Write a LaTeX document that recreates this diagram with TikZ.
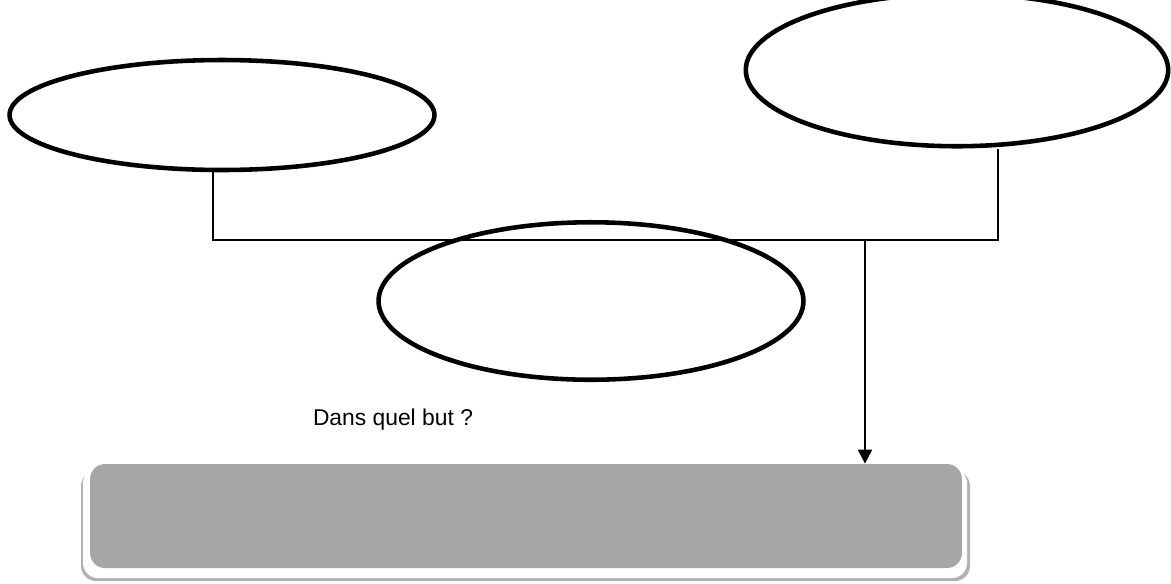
\documentclass[tikz,border=0pt]{standalone}
\usepackage{fontspec}
\setmainfont{Liberation Sans}
\usetikzlibrary{shapes.geometric,arrows.meta}

\tikzset{
  bulle/.style={ellipse, draw, line width=2.6pt},
  lien/.style={draw, line width=1.1pt},
}

\begin{document}
\begin{tikzpicture}[x=0.02cm, y=-0.02cm]
      \useasboundingbox (0,0) rectangle (1171,583);
      % bulles
      \node (gauche) [bulle, minimum width=8.5cm, minimum height=2.2cm] at (222,115) {};
      \node (droite) [bulle, minimum width=8.45cm, minimum height=3.05cm] at (957,70) {};
      \node (milieu) [bulle, minimum width=8.5cm, minimum height=3.15cm] at (591,301) {};
      % cadre du bas
      \fill[gray!60, rounded corners=0.3cm] (81,471) rectangle (970,581);
      \fill[white, rounded corners=0.3cm] (83,468) rectangle (967,578);
      \node (but) [fill={rgb,255:red,166;green,166;blue,166}, rounded corners=0.3cm,
        minimum width=17.44cm, minimum height=2.08cm, inner sep=0pt] at (526,516) {};
      \node (question) at (393,420) {\fontsize{13}{15}\selectfont Dans quel but ?};
      % liens
      \coordinate (jg) at (213,240);
      \coordinate (jd) at (998,240);
      \coordinate (jf) at (865,240);
      \draw [lien] (jg |- gauche.south) -- (jg) -- (jd) -- (jd |- droite.south);
      \draw [lien, -{Triangle[length=2.8mm,width=2.8mm]}] (jf) -- (jf |- but.north);
\end{tikzpicture}
\end{document}
